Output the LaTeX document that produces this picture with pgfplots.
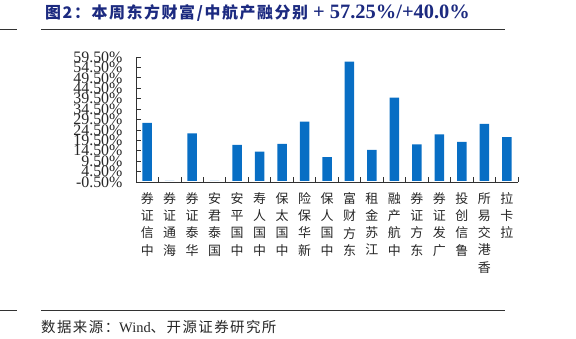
\documentclass[border=0pt]{standalone}
\usepackage{fontspec}
\usepackage{pgfplots}
\pgfplotsset{compat=1.18}
\setmainfont{Liberation Serif}
\newfontfamily\cjk{Noto Sans CJK SC}
\newfontfamily\cjkt[LetterSpace=10]{Noto Sans CJK SC}
\definecolor{titleblue}{RGB}{28,42,128}
\definecolor{barblue}{RGB}{8,110,196}
\definecolor{axgray}{RGB}{50,50,50}
\begin{document}
\begin{tikzpicture}[x=1bp,y=1bp]
\path[use as bounding box] (0,0) rectangle (576,338);
% title
\node[anchor=base west, inner sep=0pt, text=titleblue] at (45,319.5)
  {\cjkt\bfseries\fontsize{16}{16}\selectfont 图2：本周东方财富/中航产融分别};
\node[anchor=base west, inner sep=0pt, text=titleblue] at (313,319.5)
  {\bfseries\fontsize{20.5}{20.5}\selectfont + 57.25\%/+40.0\%};
\draw[axgray, line width=0.9bp] (0,309) -- (17,309);
\draw[axgray, line width=0.9bp] (41,309) -- (505,309);
% footer
\draw[axgray, line width=0.9bp] (0,28) -- (17,28);
\draw[axgray, line width=0.9bp] (41,28) -- (505,28);
\node[anchor=west, inner sep=0pt, text=black!85] at (41,11)
  {\fontsize{14.5}{14.5}\selectfont{\cjkt 数据来源：}Wind{\cjkt 、开源证券研究所}};
\begin{axis}[
  at={(136bp,156bp)}, anchor=south west,
  scale only axis, width=382bp, height=125bp,
  xmin=-0.5, xmax=16.5, ymin=-0.5, ymax=59.5,
  axis lines*=left,
  axis line style={axgray, line width=1bp, -},
  tick style={axgray, line width=0.8bp},
  major tick length=5bp,
  tick align=inside,
  ytick={-0.5,4.5,9.5,14.5,19.5,24.5,29.5,34.5,39.5,44.5,49.5,54.5,59.5},
  /pgf/number format/assume math mode=true,
  yticklabel={\pgfmathprintnumber[fixed,fixed zerofill,precision=2]{\tick}\%},
  yticklabel style={font=\fontsize{16}{16}\selectfont, text=black!85, xshift=-10bp},
  xtick={0.5,1.5,...,16.5},
  xticklabels={},
  extra x ticks={0,1,...,16},
  extra x tick style={major tick length=0pt},
  extra x tick labels={{券\\证\\信\\中},{券\\证\\通\\海},{券\\证\\泰\\华},{安\\君\\泰\\国},{安\\平\\国\\中},{寿\\人\\国\\中},{保\\太\\国\\中},{险\\保\\华\\新},{保\\人\\国\\中},{富\\财\\方\\东},{租\\金\\苏\\江},{融\\产\\航\\中},{券\\证\\方\\东},{券\\证\\发\\广},{投\\创\\信\\鲁},{所\\易\\交\\港\\香},{拉\\卡\\拉}},
  xticklabel style={font=\cjk\fontsize{13}{17.3}\selectfont, align=center, anchor=north, text=black!85, yshift=-7bp},
  clip=false,
]
\addplot[ybar, bar width=9.5bp, fill=barblue, draw=none] coordinates {
(0,27.9) (1,0) (2,22.8) (3,0) (4,17.3) (5,14.1) (6,17.8) (7,28.5) (8,11.5)
(9,57.25) (10,14.9) (11,40.0) (12,17.6) (13,22.4) (14,18.8) (15,27.4) (16,21.0)};
\end{axis}
\end{tikzpicture}
\end{document}
